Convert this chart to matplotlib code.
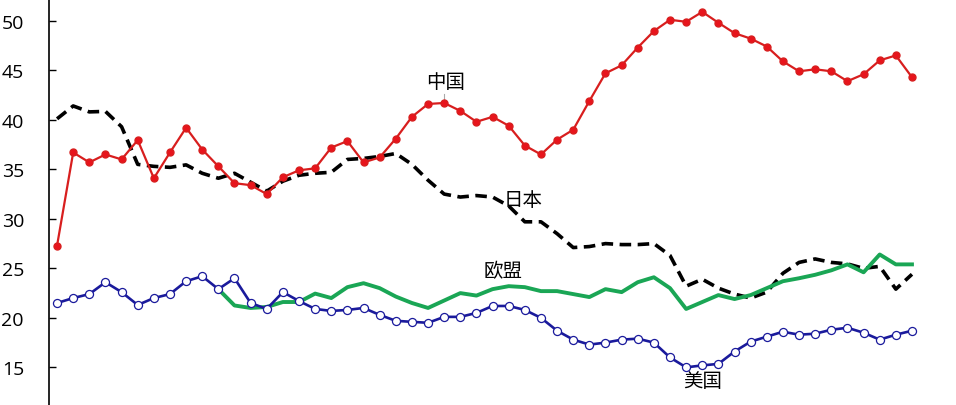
import numpy as np
import matplotlib.pyplot as plt

plt.rcParams['font.family'] = ['Noto Sans CJK SC', 'DejaVu Sans']

# 中国
china = [27.3, 36.7, 35.7, 36.5, 36.0, 37.95, 34.1, 36.7, 39.2, 37.0,
         35.3, 33.6, 33.4, 32.5, 34.2, 34.9, 35.1, 37.2, 37.85, 35.7,
         36.2, 38.1, 40.3, 41.6, 41.7, 40.9, 39.8, 40.3, 39.4, 37.4,
         36.5, 38.0, 39.0, 41.9, 44.7, 45.5, 47.3, 48.96, 50.1, 49.9,
         50.9, 49.8, 48.75, 48.2, 47.4, 45.9, 44.9, 45.1, 44.9, 43.9,
         44.6, 46.0, 46.5, 44.3]
# 日本
japan = [40.1, 41.4, 40.8, 40.85, 39.3, 35.5, 35.3, 35.2, 35.45, 34.6,
         34.1, 34.6, 33.7, 32.8, 33.8, 34.4, 34.6, 34.7, 36.0, 36.1,
         36.3, 36.6, 35.5, 33.9, 32.5, 32.2, 32.35, 32.2, 31.3, 29.7,
         29.7, 28.5, 27.1, 27.2, 27.5, 27.4, 27.4, 27.5, 26.3, 23.2,
         23.9, 23.0, 22.4, 22.0, 22.6, 24.5, 25.6, 25.95, 25.6, 25.45,
         25.0, 25.2, 22.9, 24.4]
# 欧盟 (从第11个点开始)
eu_start = 10
eu = [22.9, 21.25, 21.0, 21.1, 21.6, 21.6, 22.45, 22.0, 23.1, 23.5,
      23.0, 22.15, 21.5, 21.0, 21.75, 22.5, 22.25, 22.9, 23.2, 23.1,
      22.7, 22.7, 22.4, 22.1, 22.9, 22.6, 23.6, 24.1, 23.0, 20.9,
      21.6, 22.3, 21.9, 22.3, 23.0, 23.7, 24.0, 24.35, 24.8, 25.4,
      24.6, 26.4, 25.4, 25.4]
# 美国
usa = [21.5, 22.0, 22.4, 23.6, 22.6, 21.3, 22.0, 22.4, 23.7, 24.2,
       22.9, 24.0, 21.5, 20.9, 22.6, 21.7, 20.9, 20.7, 20.8, 21.0,
       20.3, 19.7, 19.6, 19.5, 20.1, 20.1, 20.5, 21.2, 21.2, 20.8,
       20.0, 18.7, 17.8, 17.3, 17.5, 17.8, 17.9, 17.5, 16.0, 15.0,
       15.2, 15.35, 16.6, 17.6, 18.1, 18.6, 18.3, 18.4, 18.8, 19.0,
       18.5, 17.8, 18.3, 18.7]

x = np.arange(len(china))
x_eu = np.arange(eu_start, eu_start + len(eu))

fig = plt.figure(figsize=(9.56, 4.06), dpi=100)
ax = fig.add_axes([49 / 956, 0, 1 - 49 / 956, 1])

ax.plot(x, japan, color='black', lw=2.6, ls=(0, (3.2, 1.8)), zorder=2)
ax.plot(x_eu, eu, color='#1aa655', lw=2.8, zorder=3)
ax.plot(x, usa, color='#1a1a9c', lw=1.9, marker='o', ms=5.8,
        mfc='white', mec='#1a1a9c', mew=0.9, zorder=4)
ax.plot(x, china, color='#d81e1e', lw=1.6, marker='o', ms=5.0,
        mfc='#e8141c', mec='#d81e1e', zorder=5)

# 数据标签
lab = dict(fontsize=14, ha='center', va='center', color='black')
ax.text(24.1, 43.9, '中国', **lab)
ax.plot([24.0, 24.0], [42.0, 42.6], color='#aaaaaa', lw=0.8)
ax.text(28.9, 32.0, '日本', **lab)
ax.text(27.65, 24.75, '欧盟', **lab)
ax.text(40.0, 13.7, '美国', **lab)

ax.set_xlim(-0.5, 55.73)
ax.set_ylim(11.2, 52.2)
ax.set_yticks([15, 20, 25, 30, 35, 40, 45, 50])
ax.tick_params(axis='y', direction='in', length=5, width=1, pad=18,
               labelsize=14)
for t in ax.get_yticklabels():
    t.set_fontfamily(['Open Sans', 'DejaVu Sans'])
ax.set_xticks([])
for s in ['top', 'right', 'bottom']:
    ax.spines[s].set_visible(False)
ax.spines['left'].set_linewidth(1.2)

fig.savefig('out.png', dpi=100)
